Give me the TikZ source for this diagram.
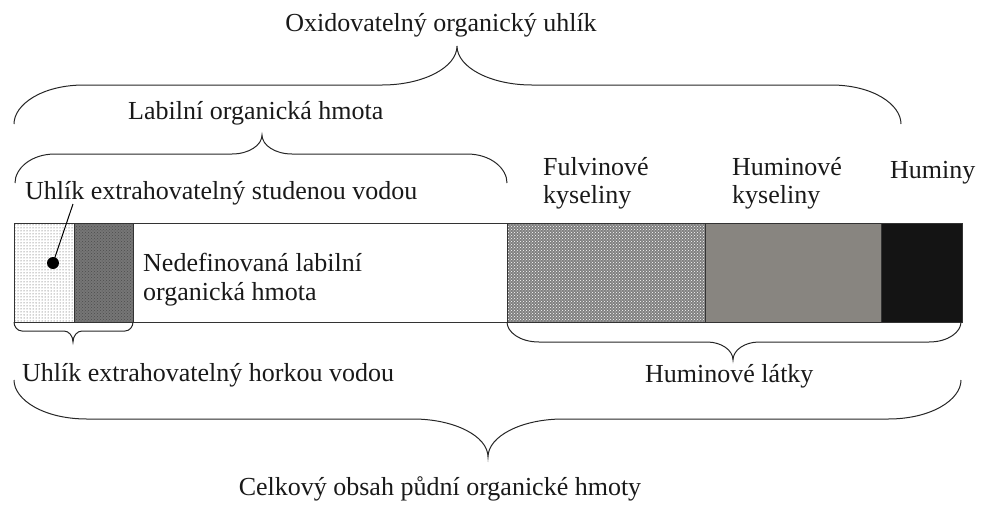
\documentclass[tikz,border=0pt]{standalone}
\usepackage{fontspec}
\setmainfont{Liberation Serif}
\usetikzlibrary{patterns}

% curly brace: x-left, x-right, y of ends, y of flat part, x tip, y tip, end width, tip width
\newcommand\curlybr[8]{%
  \draw[bracestyle] (#1,#3)
    .. controls (#1,{#4+0.5*(#3-#4)}) and ({#1+0.4*#7},#4) .. ({#1+#7},#4)
    -- ({#5-#8},#4)
    .. controls ({#5-0.45*#8},#4) and (#5,{#4+0.45*(#6-#4)}) .. (#5,#6)
    .. controls (#5,{#4+0.45*(#6-#4)}) and ({#5+0.45*#8},#4) .. ({#5+#8},#4)
    -- ({#2-#7},#4)
    .. controls ({#2-0.4*#7},#4) and (#2,{#4+0.5*(#3-#4)}) .. (#2,#3);%
}

\definecolor{humgray}{RGB}{136,133,128}
\definecolor{huminblack}{RGB}{20,20,20}
\definecolor{darkhatch}{RGB}{118,118,118}
\definecolor{fulvbase}{RGB}{128,128,128}

\begin{document}
\begin{tikzpicture}[x=1pt,y=-1pt,
  lbl/.style={inner sep=0pt,font=\fontsize{26}{30}\selectfont,text=black!90},
  bracestyle/.style={line width=1pt,black!85},
  segline/.style={line width=0.9pt,black!80}]
\useasboundingbox (0,0) rectangle (983,504);

% bar segments
\fill[white] (14,223) rectangle (74,322);
\fill[pattern=dots,pattern color=black!75] (14,223) rectangle (74,322);
\fill[darkhatch] (74,223) rectangle (133,322);
\fill[pattern=crosshatch dots,pattern color=black!70] (74,223) rectangle (133,322);
\fill[fulvbase] (507,223) rectangle (705,322);
\fill[pattern=crosshatch dots,pattern color=white] (507,223) rectangle (705,322);
\fill[humgray] (705,223) rectangle (881,322);
\fill[huminblack] (881,223) rectangle (962,322);

% bar outline and dividers
\draw[segline] (14,223) rectangle (962,322);
\draw[segline] (74,223) -- (74,322);
\draw[segline] (133,223) -- (133,322);
\draw[segline] (507,223) -- (507,322);
\draw[segline] (705,223) -- (705,322);
\draw[segline] (881,223) -- (881,322);

% labels
\node[lbl,anchor=base] (oxid) at (441,31) {Oxidovatelný organický uhlík};
\node[lbl,anchor=base west] (labil) at (128,119) {Labilní organická hmota};
\node[lbl,anchor=base west] (cold) at (25,199) {Uhlík extrahovatelný studenou vodou};
\node[lbl,anchor=base west] (nedefA) at (143,271) {Nedefinovaná labilní};
\node[lbl,anchor=base west] (nedefB) at (143,300) {organická hmota};
\node[lbl,anchor=base west] (fulvA) at (543,175) {Fulvinové};
\node[lbl,anchor=base west] (fulvB) at (543,203) {kyseliny};
\node[lbl,anchor=base west] (humA) at (732,175) {Huminové};
\node[lbl,anchor=base west] (humB) at (732,203) {kyseliny};
\node[lbl,anchor=base west] (humin) at (890,178) {Huminy};
\node[lbl,anchor=base west] (hot) at (22,381) {Uhlík extrahovatelný horkou vodou};
\node[lbl,anchor=base west] (humlat) at (645,382) {Huminové látky};
\node[lbl,anchor=base] (total) at (440,495) {Celkový obsah půdní organické hmoty};

% pointer from the cold-water label to the dotted segment
\coordinate (ptrtop) at (73,204);
\coordinate (ptrdot) at (53,263);
\draw[line width=1pt,black] (ptrtop) -- (ptrdot);
\fill[black] (ptrdot) circle (6);

% braces
\curlybr{14}{901}{124}{85}{457}{46}{70}{75}
\curlybr{15}{507}{183}{154}{262}{135}{40}{30}
\curlybr{14}{133}{322}{331}{73}{342}{8}{9}
\curlybr{507}{961}{322}{342}{733}{360}{32}{26}
\curlybr{14}{961}{380}{419}{488}{457}{73}{75}
\end{tikzpicture}
\end{document}
